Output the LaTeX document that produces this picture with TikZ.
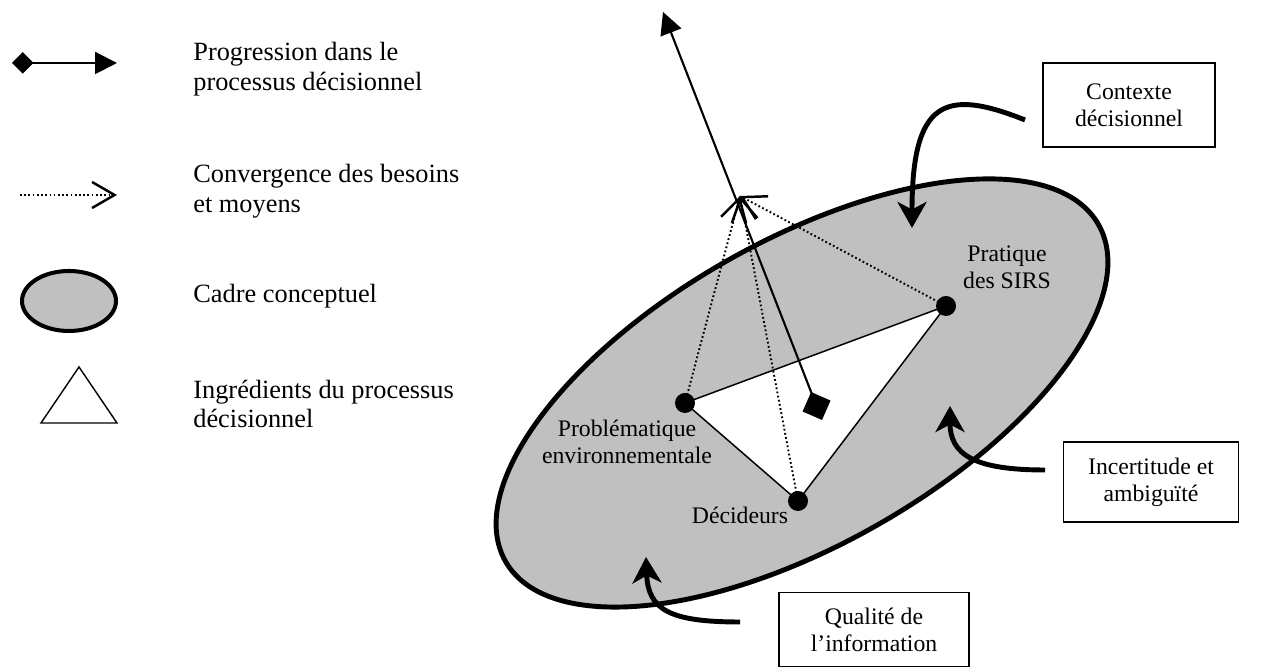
\documentclass[tikz,border=0pt]{standalone}
\usepackage{fontspec}
\setmainfont{Liberation Serif}
\usetikzlibrary{arrows.meta}
\definecolor{CCGray}{HTML}{C0C0C0}

\begin{document}
\begin{tikzpicture}[x=0.02cm,y=0.02cm,
  legtext/.style={anchor=west,align=left,inner sep=0pt,font=\fontsize{15}{17}\selectfont},
  lbl/.style={align=center,inner sep=0pt,font=\fontsize{13.5}{15.5}\selectfont},
  ctxbox/.style={draw,line width=0.7pt,align=center,font=\fontsize{13.5}{15.5}\selectfont},
  dotnode/.style={circle,fill,inner sep=0pt,minimum size=0.4cm},
  progarrow/.style={line width=1.2pt,{Diamond[length=#1,width=#1]}-{Triangle[length=0.44cm,width=0.44cm]}},
  progarrow/.default=0.6cm,
  convarrow/.style={line width=1.1pt,dash pattern=on 1pt off 1.4pt,-{Straight Barb[length=0.45cm,width=0.52cm,line width=1.4pt]}},
  bigcurve/.style={line width=2.8pt,-{Stealth[length=0.52cm,width=0.58cm,inset=0.15cm]}}]
\useasboundingbox (0,0) rectangle (1275,668);
\draw[progarrow=0.43cm] (12,605) -- (117,605);
\node[legtext] (lprog) at (193,599) {Progression dans le\\processus décisionnel};
\draw[convarrow] (20,473) -- (117,473);
\node[legtext] (lconv) at (193,477) {Convergence des besoins\\et moyens};
\draw[line width=2.3pt,fill=CCGray] (69,367) ellipse [x radius=47,y radius=30];
\node[legtext] (lcadre) at (193,372) {Cadre conceptuel};
\draw[line width=0.8pt] (79,301) -- (41,245) -- (117,245) -- cycle;
\node[legtext] (lingr) at (193,264) {Ingrédients du processus\\décisionnel};

\draw[line width=2.8pt,fill=CCGray,rotate around={29.6:(802,275)}] (802,275) ellipse [x radius=341,y radius=152];
\coordinate (prob) at (685,265);
\coordinate (dec) at (798,167);
\coordinate (prat) at (946,362);
\coordinate (conv) at (740,472);
\coordinate (diamtail) at (822,248);
\coordinate (progtop) at (663,656);
\filldraw[fill=white,line width=0.85pt] (prob) -- (prat) -- (dec) -- cycle;
\draw[convarrow] (prob) -- (conv);
\draw[convarrow] (dec) -- (conv);
\draw[convarrow] (prat) -- (conv);
\draw[progarrow] (diamtail) -- (progtop);
\node[dotnode] (probdot) at (prob) {};
\node[dotnode] (decdot) at (dec) {};
\node[dotnode] (pratdot) at (prat) {};
\node[lbl] (problbl) at (627,226.5) {Problématique\\environnementale};
\node[lbl] (declbl) at (740,153) {Décideurs};
\node[lbl] (pratlbl) at (1007,401) {Pratique\\des SIRS};

\node[ctxbox,minimum width=3.44cm,minimum height=1.68cm] (ctx) at (1129,563) {Contexte\\décisionnel};
\node[ctxbox,minimum width=3.5cm,minimum height=1.6cm] (inc) at (1151,186) {Incertitude et\\ambiguïté};
\node[ctxbox,anchor=north,minimum width=3.8cm,inner ysep=0.3cm] (qual) at (874,76) {Qualité de\\l’information};
\coordinate (ctxtail) at (1025,548);
\coordinate (ctxtip) at (912,440);
\coordinate (inctail) at (1045,198);
\coordinate (inctip) at (950,262);
\coordinate (qualtail) at (740,46);
\coordinate (qualtip) at (646,111);
\draw[bigcurve] (ctxtail) .. controls (945,580) and (912,568) .. (ctxtip);
\draw[bigcurve] (inctail) .. controls (975,198) and (950,213) .. (inctip);
\draw[bigcurve] (qualtail) .. controls (670,46) and (648,58) .. (qualtip);
\end{tikzpicture}
\end{document}
